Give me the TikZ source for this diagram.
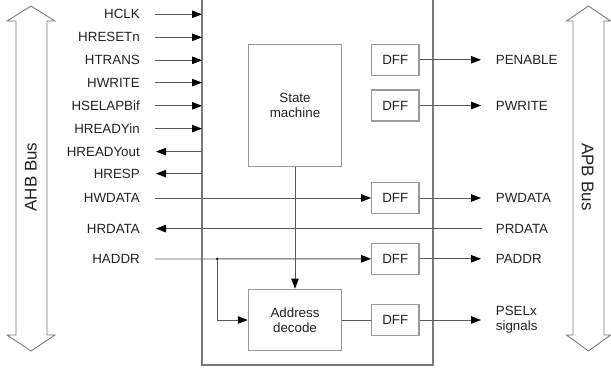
\documentclass[tikz,border=0pt]{standalone}
\usepackage{fontspec}
\setmainfont{Liberation Sans}
\usetikzlibrary{arrows.meta}
\definecolor{wirec}{HTML}{5A5A5A}
\definecolor{boxc}{HTML}{9A9A9A}
\definecolor{framec}{HTML}{7A7A7A}
\definecolor{txtc}{HTML}{222222}
\begin{document}
\begin{tikzpicture}[x=1bp,y=-1bp,
  lbl/.style={inner sep=0pt,text=txtc,font=\fontsize{13.4}{15}\selectfont},
  blk/.style={draw=boxc,line width=1.1bp,fill=white,text=txtc,align=center,
              font=\fontsize{13.4}{15}\selectfont,inner sep=0pt},
  dffbox/.style={blk,minimum width=47.3bp,minimum height=31bp},
  wire/.style={draw=wirec,line width=0.9bp},
  arr/.style={wire,-{Triangle[length=10bp,width=7.5bp,color=black]}},
  bus/.style={draw=framec,line width=0.9bp,fill=white},
  buslbl/.style={inner sep=0pt,text=txtc,font=\fontsize{17}{20}\selectfont}]
\useasboundingbox (0,0) rectangle (611,367);
% bus arrows
\draw[bus] (31,6) -- (55,21) -- (47,21) -- (47,335) -- (55,335) -- (31,351)
  -- (7,335) -- (16,335) -- (16,21) -- (7,21) -- cycle;
\node[buslbl,rotate=90] (ahb) at (31,177) {AHB Bus};
\draw[bus] (588.5,6) -- (610.5,21) -- (604,21) -- (604,335) -- (610.5,335) -- (588.5,351)
  -- (566.5,335) -- (573,335) -- (573,21) -- (566.5,21) -- cycle;
\node[buslbl,rotate=-90] (apb) at (587.5,177) {APB Bus};
% main box
\draw[draw=framec,line width=1.1bp] (202,-2) -- (202,365) -- (433,365) -- (433,-2);
% blocks
\node[blk,minimum width=93.4bp,minimum height=122.4bp] (sm) at (295,105.5) {State\\machine};
\node[blk,minimum width=93.4bp,minimum height=61.7bp] (ad) at (295,320) {Address\\decode};
\node[dffbox] (d1) at (395.3,59.8) {DFF};
\node[dffbox] (d2) at (395.3,105.5) {DFF};
\node[dffbox] (d3) at (395.3,198) {DFF};
\node[dffbox] (d4) at (395.3,258.8) {DFF};
\node[dffbox] (d5) at (395.3,320) {DFF};
% left inputs
\foreach \n/\t/\y in {hclk/HCLK/14.3, hreset/HRESETn/37.3, htrans/HTRANS/60.3,
    hwrite/HWRITE/82.6, hsel/HSELAPBif/105.8, hrdyin/HREADYin/128.6}{
  \node[lbl,anchor=east] (\n) at (140,\y) {\t};
  \coordinate (\n A) at (155,\y);
  \coordinate (\n B) at (202,\y);
  \draw[arr] (\n A) -- (\n B);
}
\foreach \n/\t/\y in {hrdyout/HREADYout/151.6, hresp/HRESP/173.6}{
  \node[lbl,anchor=east] (\n) at (140,\y) {\t};
  \coordinate (\n A) at (156,\y);
  \coordinate (\n B) at (202,\y);
  \draw[arr] (\n B) -- (\n A);
}
\node[lbl,anchor=east] (hwdata) at (140,198) {HWDATA};
\node[lbl,anchor=east] (hrdata) at (140,228.6) {HRDATA};
\node[lbl,anchor=east] (haddr) at (140,259) {HADDR};
\coordinate (hwdataA) at (155,198);
\coordinate (hrdataA) at (156,228.6);
\coordinate (haddrA) at (155,259);
\coordinate (prdA) at (482,228.6);
\coordinate (jn) at (217.3,259);
\coordinate (jb) at (217.3,320);
\draw[arr] (hwdataA) -- (d3.west);
\draw[arr] (prdA) -- (hrdataA);
\draw[arr] (haddrA) -- (d4.west);
\fill[black] (jn) circle (1.4bp);
\draw[arr] (jn) -- (jb) -- (ad.west);
\draw[arr] (sm.south) -- (ad.north);
\draw[wire] (ad.east) -- (d5.west);
% right outputs
\foreach \d/\n/\t/\y in {d1/penable/PENABLE/59.8, d2/pwrite/PWRITE/105.5,
    d3/pwdata/PWDATA/198, d4/paddr/PADDR/258.8}{
  \node[lbl,anchor=west] (\n) at (495.7,\y) {\t};
  \coordinate (\n A) at (481,\y);
  \draw[arr] (\d.east) -- (\n A);
}
\node[lbl,anchor=west] (prdata) at (495.7,228.6) {PRDATA};
\node[lbl,anchor=west,align=left] (psel) at (495.7,320) {PSELx\\signals};
\coordinate (pselA) at (481,320);
\draw[arr] (d5.east) -- (pselA);
\end{tikzpicture}
\end{document}
